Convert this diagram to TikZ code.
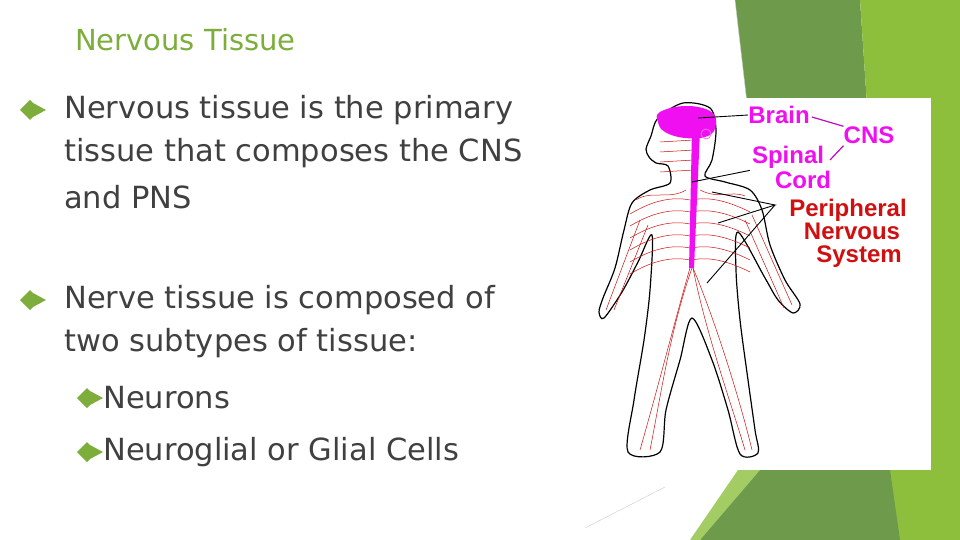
\documentclass[tikz,border=0pt]{standalone}
\usepackage{fontspec}
\setmainfont{DejaVu Sans}
\newfontfamily\lab{Liberation Sans}
\definecolor{tgreen}{HTML}{7DAE3C}
\definecolor{dgreen}{HTML}{6E9B4B}
\definecolor{lgreen}{HTML}{8DBF3D}
\definecolor{txt}{HTML}{404040}
\definecolor{mag}{HTML}{F00FF0}
\definecolor{nred}{HTML}{D01010}
\tikzset{
 body/.style={anchor=west,text=txt,font=\fontsize{30.5}{30}\selectfont,inner sep=0},
 bul/.style={fill=tgreen},
 lbl/.style={font=\lab\bfseries\fontsize{24}{24}\selectfont,inner sep=0,align=center},
 ptr/.style={black,line width=0.9},
 nerve/.style={nred,line width=0.5},
}
\newcommand{\bulletat}[2]{\fill[bul] (#1-10,#2) -- (#1,#2-10) -- (#1+3,#2-7) -- (#1+16,#2) -- (#1+3,#2+7) -- (#1,#2+10) -- cycle;}
\begin{document}
\begin{tikzpicture}[x=1pt,y=-1pt]
\fill[white] (0,0) rectangle (960,540);
\useasboundingbox (0,0) rectangle (960,540);
% green decoration
\fill[dgreen] (735,0) -- (860,0) -- (880,300) -- (770,300) -- cycle;
\fill[lgreen] (860,0) -- (960,0) -- (960,540) -- (870,540) -- (880,300) -- cycle;
\fill[dgreen] (740,470) -- (890,470) -- (900,540) -- (700,540) -- cycle;
\fill[lgreen!80!white] (738,470) -- (760,470) -- (700,540) -- (690,540) -- cycle;
\draw[gray!40,line width=0.4] (735,0) -- (770,300);
\draw[gray!40,line width=0.4] (585,528) -- (665,487);
% title
\node[anchor=west,text=tgreen,font=\fontsize{29}{29}\selectfont,inner sep=0] (title) at (75,40) {Nervous Tissue};
% bullets
\bulletat{30}{110}
\node[body] (b1a) at (64,110) {Nervous tissue is the primary};
\node[body] (b1b) at (64,153) {tissue that composes the CNS};
\node[body] (b1c) at (64,197) {and PNS};
\bulletat{30}{300}
\node[body] (b2a) at (64,300) {Nerve tissue is composed of};
\node[body] (b2b) at (64,343) {two subtypes of tissue:};
\bulletat{87}{398}
\node[body] (s1) at (103,398) {Neurons};
\bulletat{87}{452}
\node[body] (s2) at (103,452) {Neuroglial or Glial Cells};
% image box
\fill[white] (620,98) rectangle (931,470);
% figure outline
\draw[black,line width=1.2,fill=white] plot[smooth cycle,tension=0.5] coordinates {
(683,103) (710,108) (716,130) (712,160) (705,176) (725,182) (750,190) (762,210) (770,245) (785,280) (800,304) (793,313) (778,300) (765,278) (738,232)
(736,270) (740,320) (748,380) (755,430) (758,453) (740,454) (728,410) (712,360) (692,318)
(680,360) (666,410) (660,452) (628,452) (634,400) (644,340) (650,290) (652,235)
(638,262) (622,292) (604,318) (599,312) (603,298) (615,268) (624,230) (632,203) (650,190) (670,183) (668,166) (656,163) (649,157) (646,149) (651,136) (658,118)};
% nerves
\foreach \y in {200,212,224,236,248,260} {
 \draw[nerve] (690,\y) .. controls (670,\y-4) and (650,\y+2) .. (630,\y+14);
 \draw[nerve] (692,\y) .. controls (710,\y-4) and (730,\y+2) .. (750,\y+12);
}
\foreach \y in {140,150,160,170} {
 \draw[nerve] (694,\y) -- (660,\y+2);
}
\draw[nerve] (640,220) -- (606,310); \draw[nerve] (648,225) -- (614,310);
\draw[nerve] (752,215) -- (792,305); \draw[nerve] (745,220) -- (784,308);
\draw[nerve] (690,268) .. controls (675,320) and (660,380) .. (640,450);
\draw[nerve] (692,268) .. controls (670,330) and (660,400) .. (650,450);
\draw[nerve] (693,268) .. controls (705,330) and (730,400) .. (745,450);
\draw[nerve] (693,268) .. controls (715,320) and (740,400) .. (752,450);
\draw[nerve] (700,190) .. controls (720,200) and (730,190) .. (745,196);
\draw[nerve] (686,190) .. controls (670,200) and (650,190) .. (636,200);
% brain and cord
\fill[mag] plot[smooth cycle,tension=0.7] coordinates {(660,112) (685,106) (710,111) (716,124) (708,136) (685,138) (665,132) (658,122)};
\draw[mag!60!white,line width=0.8] (706,134) circle (5);
\fill[mag] (692,130) -- (700,130) -- (694,268) -- (689,268) -- cycle;
% labels
\node[lbl,text=mag] (brain) at (779,115) {Brain};
\node[lbl,text=mag] (cns) at (869,135) {CNS};
\node[lbl,text=mag] (spinal) at (788,157) {Spinal};
\node[lbl,text=mag] (cord) at (803,180) {Cord};
\node[lbl,text=nred,align=center] (pns) at (848,233) {Peripheral\\[-1pt]\hspace*{8pt}Nervous\\[-1pt]\hspace*{22pt}System};
\coordinate (bp) at (698,118);
\coordinate (sp) at (692,182);
\coordinate (p1) at (712,192);
\coordinate (p2) at (718,223);
\coordinate (p3) at (707,283);
\coordinate (pj) at (775,205);
\draw[ptr] (bp) -- (brain.west);
\draw[ptr] (spinal.south west) ++(-2,2) -- (sp);
\draw[mag!80!black,line width=1.2] (brain.east) ++(2,2) -- (cns.north west);
\draw[mag!80!black,line width=1.2] (cns.south west) ++(0,2) -- (830,160);
\draw[ptr] (p1) -- (pj) -- (p2); \draw[ptr] (pj) -- (p3);
\end{tikzpicture}
\end{document}
